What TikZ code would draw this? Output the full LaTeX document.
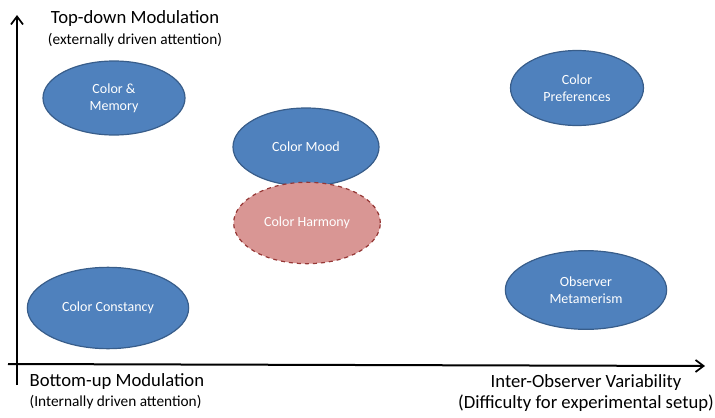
\documentclass[tikz,border=0pt]{standalone}
\usepackage{fontspec}
\setmainfont{Carlito}
\usetikzlibrary{shapes.geometric,arrows.meta}
\definecolor{topicblue}{HTML}{4F81BD}
\definecolor{topicedge}{HTML}{385D8A}
\definecolor{harmonyfill}{HTML}{D99694}
\definecolor{harmonyedge}{HTML}{953735}
\begin{document}
\begin{tikzpicture}[
            x=0.75pt, y=-0.75pt,
            topic/.style={ellipse, draw=topicedge, fill=topicblue, line width=0.9pt, text=white, align=center, inner sep=0pt, font=\fontsize{10.5}{12.75}\selectfont},
            axis/.style={line width=1.5pt, -{Straight Barb[length=6pt, width=9pt, line width=1.3pt]}},
            title/.style={font=\fontsize{14}{16}\selectfont},
            subtitle/.style={font=\fontsize{11.5}{13}\selectfont}
        ]
            \useasboundingbox (0,0) rectangle (715,418);
            \node[topic, minimum width=106.5pt, minimum height=55.5pt] (memory) at (114, 98) {Color \&\\Memory};
            \node[topic, minimum width=99.75pt, minimum height=56.25pt] (prefs) at (577, 88) {Color\\Preferences};
            \node[topic, minimum width=109.5pt, minimum height=58.5pt] (mood) at (306, 147) {Color Mood};
            \node[topic, minimum width=110pt, minimum height=61pt, fill=harmonyfill, draw=harmonyedge, dashed] (harmony) at (307, 223) {Color Harmony};
            \node[topic, minimum width=121pt, minimum height=61pt] (constancy) at (108, 308) {Color Constancy};
            \node[topic, minimum width=121pt, minimum height=59pt] (metamerism) at (586, 290) {Observer\\Metamerism};
            % axes
            \coordinate (ybase) at (17, 385);
            \coordinate (ytip) at (17, 15);
            \coordinate (xbase) at (8, 364);
            \coordinate (xtip) at (705, 366);
            \draw[axis] (ybase) -- (ytip);
            \draw[axis] (xbase) -- (xtip);
            \node[title] (toplabel) at (135, 19) {Top-down Modulation};
            \node[subtitle] (topsub) at (135, 40) {(externally driven attention)};
            \node[title, anchor=west] (bottomlabel) at (25, 382) {Bottom-up Modulation};
            \node[subtitle, anchor=west] (bottomsub) at (25, 402) {(Internally driven attention)};
            \node[title] (xlabel) at (586, 383) {Inter-Observer Variability};
            \node[title] (xsub) at (586, 403) {(Difficulty for experimental setup)};
        \end{tikzpicture}
\end{document}
